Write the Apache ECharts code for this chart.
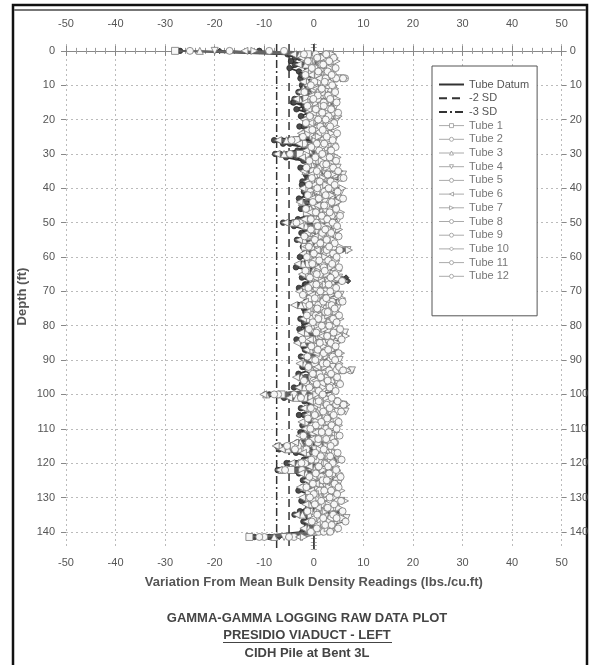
<!DOCTYPE html>
<html>
<head>
<meta charset="utf-8">
<script src="https://cdn.jsdelivr.net/npm/echarts@6/dist/echarts.min.js"></script>
<style>
  html, body { margin: 0; padding: 0; background: #fff; }
  #chart { width: 591px; height: 665px; }
</style>
</head>
<body>
<div id="chart"></div>
<script>
// depth of each reading (ft)
var depths = [
  0, 1, 2, 3, 4, 5, 6, 7, 8, 9,
  10, 11, 12, 13, 14, 15, 16, 17, 18, 19,
  20, 21, 22, 23, 24, 25, 26, 27, 28, 29,
  30, 31, 32, 33, 34, 35, 36, 37, 38, 39,
  40, 41, 42, 43, 44, 45, 46, 47, 48, 49,
  50, 51, 52, 53, 54, 55, 56, 57, 58, 59,
  60, 61, 62, 63, 64, 65, 66, 67, 68, 69,
  70, 71, 72, 73, 74, 75, 76, 77, 78, 79,
  80, 81, 82, 83, 84, 85, 86, 87, 88, 89,
  90, 91, 92, 93, 94, 95, 96, 97, 98, 99,
  100, 101, 102, 103, 104, 105, 106, 107, 108, 109,
  110, 111, 112, 113, 114, 115, 116, 117, 118, 119,
  120, 121, 122, 123, 124, 125, 126, 127, 128, 129,
  130, 131, 132, 133, 134, 135, 136, 137, 138, 139,
  140, 141.5
];

// variation from mean bulk density, one array per tube
var tube1 = [
  -28, -1.2, 0.8, 2.1, -0.5, 1.4, 3.0, 0.2, 4.1, 1.0,
  -0.8, 2.2, 0.5, 1.8, -1.5, 0.9, 2.7, 0.1, 3.4, 1.2,
  -0.4, 1.9, 0.3, 2.6, -1.1, 0.7, -3.5, 1.5, 0.2, 2.4,
  -2.8, 0.6, 1.7, -0.3, 2.9, 0.8, 3.8, 1.1, -0.6, 2.3,
  0.4, 3.1, -0.9, 1.6, 2.5, 0.0, 1.9, -1.4, 2.8, 0.7,
  -2.2, 1.3, 0.1, 2.2, -0.7, 1.0, 3.3, -1.8, 0.9, 2.0,
  0.3, 1.7, -1.0, 2.6, 0.5, 1.4, 3.9, -0.2, 1.1, 2.4,
  -0.9, 1.2, 2.7, 0.4, -1.6, 1.8, 0.6, 3.2, -0.4, 1.5,
  2.3, 0.0, 3.6, 1.1, -1.2, 2.0, 0.7, -0.5, 2.9, 1.3,
  0.2, 2.4, -0.8, 4.5, 1.0, -0.3, 2.1, 0.9, -1.5, 1.6,
  -6.5, -2.0, 1.4, 3.8, 0.6, 2.5, -0.7, 1.9, 0.3, 2.6,
  -1.1, 1.0, 2.2, 0.1, -0.9, -4.0, -2.5, 1.3, 2.0, 0.4,
  -1.8, 1.6, -4.6, 0.8, 2.4, -0.2, 1.5, 3.0, 0.5, -1.0,
  1.9, 0.3, 2.7, 3.9, 1.2, -0.6, 2.2, 0.9, 3.4, 1.1,
  0.0, -13
];
var tube2 = [
  -25, 2.3, 0.9, 3.6, 1.2, 2.8, 0.4, 3.9, 6.3, 2.0,
  1.1, 3.3, 0.2, 2.5, 4.0, 1.4, -0.3, 2.9, 1.8, 4.7,
  2.2, 0.6, 3.5, 1.0, 2.7, -0.2, 1.9, 3.1, 0.8, 2.4,
  1.3, 3.8, -0.5, 2.1, 1.5, 4.4, 0.9, 5.6, 2.6, 1.0,
  3.4, 0.7, 2.2, 5.2, 1.6, 0.2, 3.0, 2.4, 4.1, 1.1,
  0.5, 2.8, 4.6, 1.3, -0.4, 2.0, 3.7, 1.0, 5.0, 2.3,
  1.6, 3.3, 0.1, 2.5, 4.2, 1.2, 2.8, 0.4, 3.6, 1.9,
  3.1, 0.8, 2.4, 5.3, 1.5, 0.2, 3.0, 1.7, 4.4, 2.1,
  0.6, 3.5, 6.0, 1.4, 2.6, 0.3, 3.9, 1.8, 2.5, 4.6,
  1.2, 3.0, 0.5, 7.4, 2.2, 1.0, 3.6, 0.7, 2.9, 1.5,
  -4.0, 0.8, 3.3, 6.2, 2.0, 4.5, 1.1, 2.7, 0.4, 3.2,
  1.8, 0.1, 3.5, 2.3, 4.3, 1.0, -1.8, 2.6, 0.9, 3.4,
  1.5, 2.9, 0.2, 3.8, 1.1, 4.6, 2.0, 0.6, 3.1, 1.7,
  2.5, 4.8, 1.3, 3.6, 0.8, 2.2, 6.1, 1.6, 3.0, 2.4,
  1.0, -10
];
var tube3 = [
  -23, -2.8, -0.3, 1.2, -1.6, 0.4, -0.9, 2.0, -0.2, -1.3,
  0.5, -2.1, 1.0, -0.6, -2.9, 0.3, 1.5, -1.0, -0.1, 2.2,
  -1.4, 0.8, -0.5, 1.6, -2.3, 0.1, -5.5, -1.8, 0.6, -0.9,
  -6.0, -1.2, 0.9, -0.4, 1.8, -1.7, 0.2, 2.5, -0.8, 0.7,
  -1.5, 1.2, -0.2, 0.5, -2.4, 1.4, -0.7, 0.0, 2.1, -1.1,
  -4.2, -1.6, 0.4, -0.9, 1.3, -2.0, 0.6, -0.3, 1.9, -1.2,
  -0.6, 0.9, -2.2, 1.5, -0.1, -1.4, 0.7, 2.3, -0.5, 0.2,
  -1.9, 0.5, 1.2, -0.8, -2.6, 0.3, -0.4, 1.7, -1.3, 0.8,
  -0.2, 1.4, -1.5, 2.6, 0.1, -2.1, 0.9, -0.7, 1.3, -1.0,
  0.4, -1.8, 1.6, -0.3, 0.8, -2.5, 1.1, -0.6, -1.9, 0.3,
  -9.6, -3.5, 0.2, 1.5, -1.2, 0.7, -0.4, 1.8, -1.6, 0.1,
  -0.8, 1.2, -1.9, 0.5, -2.7, -6.8, -5.2, -1.3, 0.6, -0.3,
  -3.1, 0.4, -6.5, -1.5, 0.9, -0.7, 1.4, -2.0, 0.0, 1.1,
  -1.4, 0.6, -0.9, 1.7, 0.3, -2.3, 0.8, -0.5, 1.5, -1.1,
  -0.4, -8
];
var tube4 = [
  -20, 3.1, 1.4, 4.2, 2.0, 0.5, 3.6, 1.8, 5.4, 2.7,
  1.2, 4.0, 2.3, 0.7, 3.5, 1.9, 4.4, 2.6, 0.9, 3.8,
  4.6, 2.1, 1.0, 3.3, 2.8, 0.6, 4.1, 1.7, 3.0, 2.2,
  0.9, 3.6, 2.5, 1.3, 4.8, 2.0, 5.9, 3.2, 1.5, 4.0,
  2.6, 5.5, 1.1, 3.7, 2.2, 4.6, 0.8, 3.1, 2.0, 5.0,
  1.6, 3.9, 2.4, 0.7, 4.3, 2.9, 1.3, 3.5, 6.8, 2.1,
  3.0, 1.2, 4.5, 2.3, 0.9, 3.8, 5.1, 2.7, 1.5, 4.0,
  2.2, 5.4, 1.0, 3.4, 2.6, 4.8, 1.7, 3.1, 0.5, 3.9,
  2.4, 4.3, 6.3, 2.0, 3.7, 1.1, 4.5, 2.8, 1.6, 3.5,
  5.2, 2.1, 3.8, 7.7, 1.9, 4.1, 2.5, 0.8, 3.3, 2.0,
  -2.0, 1.5, 4.4, 5.9, 3.0, 6.4, 2.2, 3.9, 1.4, 4.6,
  2.7, 1.0, 4.2, 3.1, 0.6, 2.4, 0.2, 3.6, 2.0, 4.9,
  1.3, 3.5, 2.1, 4.7, 0.9, 3.2, 5.0, 2.5, 1.7, 4.0,
  3.3, 5.6, 2.0, 4.4, 1.5, 3.8, 6.6, 2.6, 4.1, 3.0,
  1.8, -6
];
var tube5 = [
  -17, 0.4, 2.5, -0.6, 1.8, 3.2, 0.1, 2.2, 4.5, 1.3,
  2.9, 0.0, 1.7, 3.5, 0.8, 2.3, -0.9, 1.4, 3.8, 0.6,
  1.9, 3.0, -0.4, 2.6, 1.1, 3.9, 0.3, -2.0, 2.4, 1.5,
  -1.5, 2.1, 0.7, 3.4, 1.2, -0.2, 4.2, 2.0, 0.9, 3.1,
  1.6, -0.7, 2.9, 0.5, 4.4, 1.3, 2.5, 0.2, 3.6, 1.9,
  -2.8, 0.6, 2.7, 1.5, 3.1, 0.0, 1.8, 4.0, 0.8, 2.5,
  1.0, -0.5, 3.4, 1.7, 2.6, 0.3, 4.7, 1.2, 2.9, 0.5,
  2.3, 1.0, -0.8, 3.7, 0.9, 2.5, 4.1, 0.4, 1.8, 3.0,
  0.7, 2.8, 1.4, 5.0, -0.3, 1.9, 3.3, 0.6, 2.1, 1.0,
  3.5, 0.2, 2.4, 5.6, 1.1, 2.9, -0.1, 1.7, 3.8, 0.5,
  -7.2, -0.5, 2.6, 4.5, 1.4, 3.6, 0.3, 2.2, 4.0, 1.0,
  2.5, -0.2, 1.6, 3.9, 0.8, -3.2, -1.5, 1.9, 3.3, 0.4,
  2.2, 0.9, -2.4, 3.0, 1.5, 2.8, 0.1, 3.7, 1.2, 2.4,
  0.6, 3.3, 1.8, 4.6, 2.0, 0.2, 3.5, 1.4, 2.7, 0.9,
  2.0, -4
];
var tube6 = [
  -14, -4.2, -2.5, -1.0, -3.1, 0.2, -1.8, -0.6, 1.0, -2.2,
  -1.3, 0.4, -2.8, -0.5, -3.6, -1.9, 0.8, -1.1, -0.2, 1.3,
  -2.0, -0.7, 0.6, -1.5, -2.6, 0.1, -7.2, -3.0, -0.9, -1.6,
  -7.5, -2.4, -0.3, -1.2, 0.9, -2.1, -0.6, 1.5, -1.4, -0.1,
  -2.3, 0.5, -1.0, -0.4, -2.9, 0.7, -1.7, -0.8, 1.2, -2.0,
  -5.8, -2.7, -0.5, -1.4, 0.3, -3.0, -0.9, -1.6, 0.6, -2.2,
  -1.1, -0.2, -3.3, 0.8, -1.5, -2.4, 0.2, 1.4, -0.7, -1.9,
  -3.0, -0.4, 0.5, -1.8, -4.0, -0.9, -1.3, 0.9, -2.2, -0.1,
  -1.2, 0.6, -2.6, 1.6, -0.8, -3.4, -0.1, -1.5, 0.4, -2.0,
  -0.6, -2.9, 0.7, -1.1, -0.3, -3.6, 0.2, -1.6, -3.1, -0.5,
  -10.2, -5.0, -0.8, 0.6, -2.1, -0.3, -1.4, 0.9, -2.5, -0.7,
  -1.8, 0.3, -2.9, -0.4, -3.8, -7.7, -6.5, -2.2, -0.2, -1.2,
  -4.5, -0.9, -7.0, -2.6, -0.1, -1.5, 0.4, -2.8, -0.6, 0.2,
  -2.4, -0.3, -1.7, 0.8, -0.9, -3.5, -0.2, -1.4, 0.6, -2.1,
  -1.0, -3
];
var tube7 = [
  -12, 3.8, 2.0, 4.6, 1.5, 3.3, 2.6, 0.9, 6.1, 3.4,
  2.1, 4.3, 1.2, 3.0, 4.7, 2.4, 1.6, 3.9, 2.7, 5.0,
  3.2, 1.4, 4.5, 2.5, 3.6, 1.0, 2.9, 4.2, 1.8, 3.5,
  2.2, 4.8, 1.6, 3.1, 2.7, 5.2, 3.9, 1.9, 4.4, 2.5,
  5.8, 2.9, 3.6, 1.5, 4.9, 2.3, 3.4, 5.5, 1.8, 3.0,
  4.3, 2.0, 5.1, 3.3, 1.6, 4.0, 2.6, 5.3, 7.1, 3.2,
  2.3, 4.4, 1.9, 3.5, 5.0, 2.7, 3.9, 6.2, 2.4, 4.1,
  1.7, 3.6, 5.7, 2.8, 3.2, 1.5, 4.5, 2.9, 5.4, 3.3,
  4.0, 2.2, 5.0, 6.5, 3.1, 4.7, 2.0, 3.8, 5.5, 2.6,
  3.4, 5.2, 2.3, 6.8, 4.1, 2.8, 5.0, 3.5, 1.9, 4.3,
  0.5, 2.6, 5.3, 6.6, 3.7, 5.8, 2.4, 4.6, 3.0, 5.1,
  3.6, 2.1, 4.9, 1.8, 3.4, 2.7, 1.2, 4.3, 3.0, 5.4,
  2.6, 4.5, 1.9, 5.2, 3.3, 2.0, 4.8, 3.1, 5.6, 2.7,
  4.2, 6.3, 3.0, 5.1, 2.4, 4.5, 5.9, 3.2, 4.0, 2.8,
  3.5, -2
];
var tube8 = [
  -9, -2.0, 0.7, -1.2, 1.6, -0.4, 0.9, -1.7, 2.4, 0.1,
  -0.6, 1.5, -1.9, 0.8, -0.1, 2.0, -1.3, 0.4, 1.7, -0.8,
  0.9, -1.6, 1.3, -0.3, 2.2, -2.2, -4.5, 0.6, -0.5, 1.1,
  -4.8, 0.3, -0.9, 1.9, -1.5, 0.6, 2.8, -0.4, 1.2, -1.0,
  0.7, 2.1, -1.2, 1.0, -0.2, 2.5, -1.6, 0.4, 1.6, -0.6,
  -3.5, 0.8, -0.6, 1.7, -1.9, 0.2, 1.3, -1.0, 2.6, 0.0,
  -1.4, 1.1, -0.3, 2.0, -1.7, 0.6, -0.8, 3.0, 0.5, -1.1,
  1.3, -2.2, 0.2, 1.9, -0.9, 0.7, 2.3, -1.4, 0.9, -0.2,
  1.6, -1.0, 0.5, 2.7, -2.3, 1.2, -0.5, 0.8, 2.0, -1.3,
  0.3, 1.8, -1.1, 3.1, -0.2, 1.4, -2.0, 0.6, -0.9, 1.0,
  -8.0, -2.6, 1.0, 2.6, -0.6, 1.9, 0.2, -1.2, 1.5, 0.4,
  -0.7, 1.6, -2.1, 0.9, -1.0, -5.4, -3.8, 0.3, 1.4, -0.5,
  -2.5, 1.0, -5.8, 0.4, -0.9, 1.8, -0.2, -1.5, 2.1, 0.0,
  -0.8, 1.5, 0.2, 2.6, -1.3, 0.7, 1.9, -0.4, 2.3, 0.6,
  -0.6, -11
];
var tube9 = [
  -27, -5.3, -3.8, -4.6, -2.2, -4.9, -3.0, -1.6, -2.7, -0.9,
  -2.4, -1.2, -3.1, -0.6, -3.9, -4.2, -2.0, -3.5, -1.1, -2.6,
  -1.8, -0.4, -2.9, -1.3, -0.8, -2.5, -8.0, -6.2, -1.9, -3.3,
  -7.8, -5.6, -2.1, -1.0, -2.7, -0.5, -1.6, -0.2, -2.3, -1.2,
  -0.7, -2.0, -1.4, -3.0, -0.3, -1.8, -2.6, -0.9, -1.5, -3.2,
  -6.2, -4.0, -1.7, -2.5, -0.6, -3.4, -1.1, -2.2, -0.4, -1.9,
  -2.8, -0.8, -1.5, -3.6, -0.2, -1.3, -2.4, -0.7, -1.8, -3.0,
  -1.0, -2.2, -0.5, -1.6, -3.3, -2.0, -0.9, -1.4, -2.7, -0.6,
  -1.9, -2.9, -0.3, -1.2, -3.5, -0.8, -2.1, -1.5, -0.4, -2.6,
  -1.4, -0.7, -2.3, -1.0, -3.1, -1.7, -0.5, -2.4, -4.0, -1.1,
  -9.8, -6.0, -1.9, -0.6, -2.6, -1.2, -3.0, -0.4, -1.8, -2.3,
  -1.1, -2.7, -0.8, -1.6, -3.4, -7.4, -7.0, -3.6, -1.4, -2.0,
  -5.5, -2.4, -6.8, -3.0, -1.3, -2.2, -0.5, -1.9, -3.1, -0.9,
  -1.6, -2.5, -0.7, -1.2, -2.8, -3.9, -1.0, -2.1, -0.6, -1.5,
  -2.3, -12
];
var tube10 = [
  -19, -3.5, -1.0, 1.8, -0.4, 0.9, 2.6, -1.2, 3.0, 0.5,
  1.6, -0.7, 0.3, 2.0, -2.6, -1.5, 1.1, 2.5, -0.2, 0.8,
  2.3, 0.1, 1.4, -0.8, 1.9, 0.6, -1.9, 2.8, 1.0, -0.3,
  -3.2, 1.2, 2.1, 0.2, 1.5, 3.0, 0.7, 2.4, -0.5, 1.8,
  2.7, 0.4, 1.3, 3.5, -0.6, 1.0, 2.2, 1.6, 0.1, 2.9,
  -1.0, 1.9, 0.5, 2.4, 1.2, -0.4, 2.1, 0.8, 5.8, 1.4,
  0.2, 2.6, 1.5, -0.2, 3.1, 1.0, 6.5, 6.9, 2.0, 0.6,
  1.7, 0.3, 2.5, 1.1, -0.7, 2.0, 0.9, 3.3, 1.3, 0.0,
  2.2, 1.0, 3.4, 0.5, 1.7, -0.4, 2.6, 1.2, 0.8, 2.9,
  1.4, 0.2, 2.8, 5.2, 0.9, 1.9, 0.4, 2.3, -0.8, 1.1,
  -5.5, -1.4, 1.7, 3.2, 0.7, 2.6, 1.3, 0.1, 2.4, 1.0,
  0.4, 2.0, 1.1, -0.3, 1.6, -2.4, -0.9, 1.4, 2.7, 0.8,
  -1.2, 1.5, -3.6, 2.2, 0.6, 1.8, 0.2, 2.9, 1.1, 0.3,
  2.0, 0.9, 3.0, 4.8, 5.0, 1.2, 2.5, 0.7, 1.6, 2.2,
  0.5, -7
];
var tube11 = [
  -11, -4.8, -2.9, -0.5, -3.8, -1.4, 0.3, -2.5, 0.8, -1.7,
  -0.6, -2.2, 0.5, -1.1, -3.2, -4.0, -0.3, -1.8, 0.7, -0.9,
  -1.5, 0.2, -2.0, -0.4, 0.9, -1.2, -6.5, -4.8, -0.6, -2.1,
  -6.8, -3.6, -1.0, 0.4, -1.8, -0.3, 1.0, -1.3, -0.1, -2.4,
  -0.9, 0.6, -1.6, -0.2, -2.2, 0.3, -1.1, -0.5, 1.1, -1.4,
  -5.2, -2.0, -0.7, 0.5, -1.5, -2.6, -0.2, -1.0, 0.9, -1.8,
  -0.4, -1.3, -2.5, 0.1, -0.8, -1.9, 0.6, -0.3, -1.6, 0.2,
  -2.3, -0.6, 0.8, -1.2, -3.1, -0.5, -1.7, 0.3, -0.9, -2.0,
  -0.1, -1.5, 0.7, -0.7, -2.4, 0.4, -1.0, -1.8, 0.2, -0.6,
  -1.3, 0.1, -1.9, 0.9, -0.5, -2.7, -0.2, -1.1, -2.6, 0.0,
  -9.0, -4.5, -0.3, 0.8, -1.6, -0.1, -2.0, 0.5, -0.8, -1.4,
  -0.5, -1.7, 0.4, -1.0, -2.6, -7.0, -6.0, -1.5, 0.2, -0.9,
  -3.8, -0.4, -7.3, -1.9, 0.3, -1.1, -0.6, -2.3, 0.5, -0.2,
  -1.2, 0.2, -0.9, 0.6, -1.7, -2.9, 0.1, -0.8, -1.4, 0.4,
  -1.5, -9
];
var tube12 = [
  -6, 2.5, 4.0, 3.1, 1.9, 4.4, 2.8, 3.6, 5.9, 2.2,
  3.7, 1.6, 4.3, 2.9, 3.3, 4.6, 2.0, 3.5, 4.9, 3.0,
  2.4, 4.1, 3.3, 1.8, 4.7, 2.6, 3.8, 2.1, 4.4, 3.5,
  1.7, 3.2, 4.5, 2.5, 3.9, 4.9, 2.8, 6.0, 3.4, 4.2,
  3.0, 4.8, 2.4, 5.9, 3.6, 2.1, 4.5, 3.2, 5.3, 2.7,
  3.8, 4.7, 2.3, 3.5, 5.0, 2.6, 4.2, 3.1, 5.2, 3.9,
  4.6, 2.9, 3.7, 5.1, 2.2, 4.3, 3.4, 5.7, 3.0, 4.5,
  3.3, 4.9, 2.5, 5.8, 3.6, 4.2, 2.8, 5.1, 3.9, 4.6,
  3.1, 5.3, 4.0, 2.7, 5.6, 3.4, 4.4, 2.9, 5.0, 3.8,
  4.3, 2.6, 5.1, 5.9, 3.5, 4.7, 2.8, 5.3, 3.2, 4.4,
  1.8, 3.6, 4.8, 6.0, 3.2, 5.5, 4.0, 2.7, 5.0, 3.6,
  4.6, 3.0, 5.2, 2.5, 4.1, 3.4, 2.0, 4.8, 3.3, 5.6,
  3.8, 2.9, 4.5, 3.1, 5.4, 2.6, 4.2, 5.0, 3.5, 4.7,
  3.2, 5.5, 4.1, 2.8, 5.8, 3.9, 4.6, 6.4, 3.6, 4.9,
  3.3, -5
];

// reference lines
var datumX = 0;
var sd2X = -5.0;
var sd3X = -7.5;
var lineDepths = [-2, 145];

var depthLabels = [0, 10, 20, 30, 40, 50, 60, 70, 80, 90, 100, 110, 120, 130, 140];

var tubes = [tube1, tube2, tube3, tube4, tube5, tube6, tube7, tube8, tube9, tube10, tube11, tube12];
var tubeSymbols = ['rect', 'circle', 'triangle', 'triangle', 'circle', 'triangle', 'triangle', 'circle', 'circle', 'diamond', 'circle', 'circle'];
var tubeRotate = [0, 0, 0, 180, 0, 90, -90, 0, 0, 0, 0, 0];
var tubeDark = [false, false, false, false, false, false, false, false, true, true, true, false];

var FONT = 'Liberation Sans, Arial, sans-serif';

function pairs(vals) {
    var out = [];
    for (var i = 0; i < vals.length && i < depths.length; i++) {
        out.push([vals[i], depths[i]]);
    }
    return out;
}

function vline(x) {
    return lineDepths.map(function (d) { return [x, d]; });
}

var series = [
    {
        name: 'Tube Datum', type: 'line', data: vline(datumX), symbol: 'none', z: 1,
        itemStyle: { color: '#333' },
        lineStyle: { color: '#333', width: 1.5 }
    },
    {
        name: '-2 SD', type: 'line', data: vline(sd2X), symbol: 'none', z: 1,
        itemStyle: { color: '#333' },
        lineStyle: { color: '#333', width: 1.5, type: [8, 5] }
    },
    {
        name: '-3 SD', type: 'line', data: vline(sd3X), symbol: 'none', z: 1,
        itemStyle: { color: '#333' },
        lineStyle: { color: '#333', width: 1.5, type: [8, 3, 2, 3] }
    }
];
var legendNames = [
    { name: 'Tube Datum', itemStyle: { opacity: 0 }, textStyle: { color: '#555' } },
    { name: '-2 SD', itemStyle: { opacity: 0 }, textStyle: { color: '#555' } },
    { name: '-3 SD', itemStyle: { opacity: 0 }, textStyle: { color: '#555' } }
];
for (var t = 0; t < tubes.length; t++) {
    var dark = tubeDark[t];
    legendNames.push({ name: 'Tube ' + (t + 1), lineStyle: { color: '#aaa', width: 1 }, itemStyle: { color: '#fff', borderColor: '#999', borderWidth: 0.8 } });
    series.push({
        name: 'Tube ' + (t + 1),
        type: 'line',
        data: pairs(tubes[t]),
        symbol: tubeSymbols[t],
        symbolRotate: tubeRotate[t],
        symbolSize: dark ? 5.5 : 7,
        z: dark ? 2 : 3,
        lineStyle: { color: dark ? '#333' : '#666', width: dark ? 1.8 : 1.2 },
        itemStyle: { color: dark ? '#4a4a4a' : '#f7f7f7', borderColor: dark ? '#2a2a2a' : '#777', borderWidth: 0.8 }
    });
}

var axisCommonX = {
    type: 'value', min: -50, max: 50, interval: 10,
    axisLine: { show: true, lineStyle: { color: '#888', width: 1 } },
    axisTick: { show: true, inside: false, length: 5, lineStyle: { color: '#888' } },
    minorTick: { show: true, splitNumber: 5, length: 3, lineStyle: { color: '#999' } },
    axisLabel: { fontFamily: FONT, fontSize: 11, color: '#555' }
};

var myChart = echarts.init(document.getElementById('chart'), null, { renderer: 'canvas' });
myChart.setOption({
    animation: false,
    backgroundColor: '#fff',
    grid: { left: 66, right: 29, top: 44, bottom: 116 },
    xAxis: [
        Object.assign({}, axisCommonX, {
            position: 'bottom',
            axisLabel: { fontFamily: FONT, fontSize: 11, color: '#555', margin: 8 },
            splitLine: { show: true, lineStyle: { type: [2, 3], color: '#bbb' } },
            name: 'Variation From Mean Bulk Density Readings (lbs./cu.ft)',
            nameLocation: 'middle', nameGap: 27,
            nameTextStyle: { fontFamily: FONT, fontSize: 13, fontWeight: 'bold', color: '#555' }
        }),
        Object.assign({}, axisCommonX, {
            position: 'top',
            axisLabel: { fontFamily: FONT, fontSize: 11, color: '#555', margin: 15 },
            splitLine: { show: false }
        })
    ],
    yAxis: [
        {
            type: 'value', inverse: true, min: -2, max: 145, interval: 1, position: 'left',
            axisLine: { show: true, lineStyle: { color: '#888' } },
            axisTick: { show: true, length: 3, lineStyle: { color: '#aaa' } },
            axisLabel: { show: false }, splitLine: { show: false },
            name: 'Depth (ft)', nameLocation: 'middle', nameGap: 37,
            nameTextStyle: { fontFamily: FONT, fontSize: 13, fontWeight: 'bold', color: '#555' }
        },
        {
            type: 'value', inverse: true, min: -2, max: 145, interval: 1, position: 'right',
            axisLine: { show: true, lineStyle: { color: '#888' } },
            axisTick: { show: true, length: 3, lineStyle: { color: '#aaa' } },
            axisLabel: { show: false }, splitLine: { show: false }
        },
        {
            type: 'value', inverse: true, min: -2, max: 145, position: 'left',
            axisLine: { show: false },
            axisTick: { show: true, length: 5, customValues: depthLabels, lineStyle: { color: '#888' } },
            axisLabel: { customValues: depthLabels, margin: 11, fontFamily: FONT, fontSize: 11, color: '#555' },
            splitLine: { show: true, lineStyle: { type: [2, 3], color: '#bbb' } }
        },
        {
            type: 'value', inverse: true, min: -2, max: 145, position: 'right',
            axisLine: { show: false },
            axisTick: { show: true, length: 5, customValues: depthLabels, lineStyle: { color: '#888' } },
            axisLabel: { customValues: depthLabels, margin: 8, fontFamily: FONT, fontSize: 11, color: '#555' },
            splitLine: { show: false }
        }
    ],
    legend: {
        orient: 'vertical', left: 432, top: 66,
        padding: [13, 8, 34, 6],
        itemWidth: 25, itemHeight: 5, itemGap: 2.7,
        borderColor: '#555', borderWidth: 1, backgroundColor: '#fff',
        selectedMode: false,
        textStyle: { fontFamily: FONT, fontSize: 11, lineHeight: 11, color: '#777' },
        data: legendNames
    },
    graphic: [
        { type: 'rect', shape: { x: 13, y: 5, width: 574, height: 700 }, style: { fill: 'none', stroke: '#111', lineWidth: 2.5 }, silent: true },
        { type: 'line', shape: { x1: 14, y1: 10, x2: 586, y2: 10 }, style: { stroke: '#777', lineWidth: 2 }, silent: true },
        { type: 'text', x: 307, y: 618, style: { text: 'GAMMA-GAMMA LOGGING RAW DATA PLOT', fontFamily: FONT, fontSize: 13, fontWeight: 'bold', fill: '#444', textAlign: 'center', textVerticalAlign: 'middle' } },
        { type: 'text', x: 307, y: 635, style: { text: 'PRESIDIO VIADUCT - LEFT', fontFamily: FONT, fontSize: 13, fontWeight: 'bold', fill: '#444', textAlign: 'center', textVerticalAlign: 'middle' } },
        { type: 'line', shape: { x1: 223, y1: 642.5, x2: 392, y2: 642.5 }, style: { stroke: '#444', lineWidth: 1 } },
        { type: 'text', x: 307, y: 653, style: { text: 'CIDH Pile at Bent 3L', fontFamily: FONT, fontSize: 13, fontWeight: 'bold', fill: '#444', textAlign: 'center', textVerticalAlign: 'middle' } }
    ],
    series: series
});
</script>
</body>
</html>
